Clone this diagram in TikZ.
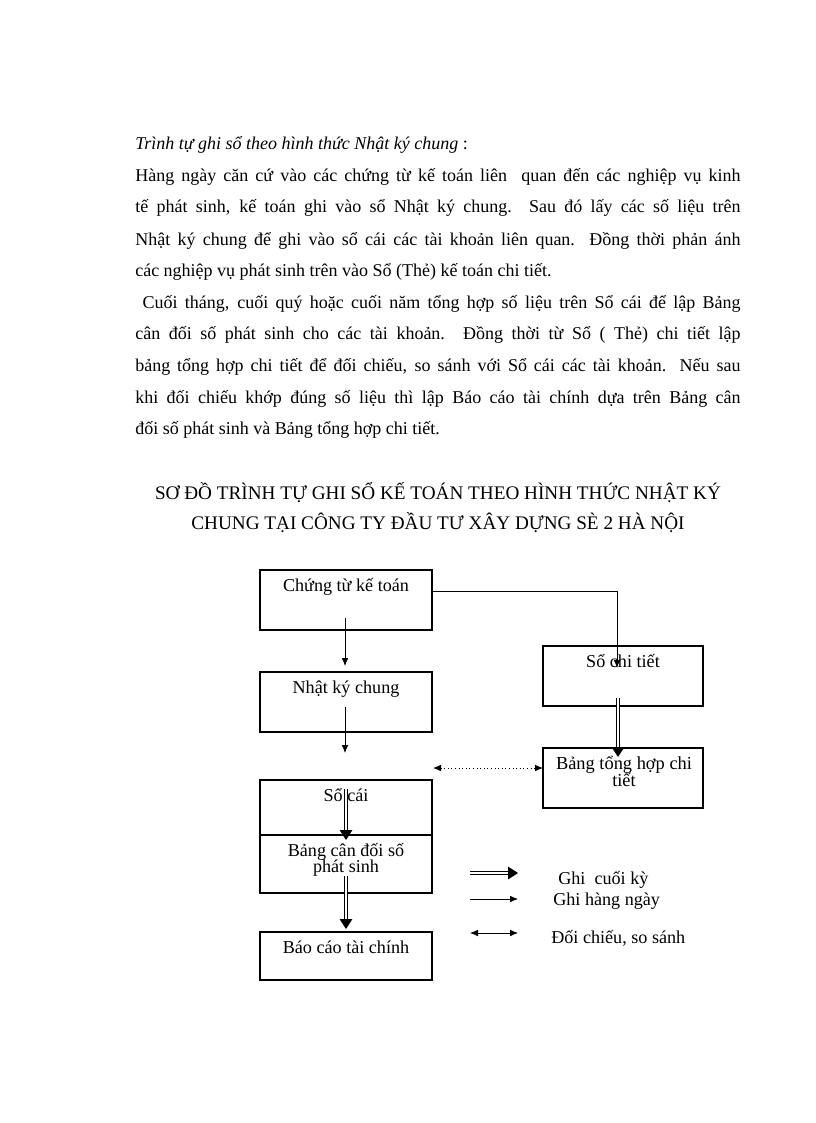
\documentclass[tikz,border=0pt]{standalone}
\usepackage{fontspec}
\setmainfont{Liberation Serif}
\usetikzlibrary{arrows.meta}
\newcommand\tightls{\lineskiplimit=-20pt\relax}
\begin{document}
\begin{tikzpicture}[x=0.75pt,y=-0.75pt,
  body/.style={anchor=base west,inner sep=0pt,font=\fontsize{13.5}{16}\selectfont},
  ttl/.style={anchor=base,inner sep=0pt,font=\fontsize{14.4}{16}\selectfont},
  lbl/.style={anchor=base,inner sep=0pt,font=\fontsize{13.6}{14}\selectfont},
  boxst/.style={draw,line width=0.8pt},
  thin/.style={line width=0.6pt,-{Latex[length=6pt,width=5pt]}},
  dbl/.style={double,double distance=1.3pt,line width=0.75pt,-{Triangle[length=7.5pt,width=9.5pt]}},
  cmp/.style={dotted,line width=0.7pt,{Latex[length=6pt,width=5pt]}-{Latex[length=6pt,width=5pt]}},
  cmpl/.style={line width=0.6pt,{Latex[length=6pt,width=5pt]}-{Latex[length=6pt,width=5pt]}}]
\useasboundingbox (0,0) rectangle (816,1123);
\def\W{454pt}
\node[body] (p1) at (135,150) {\itshape Trình tự ghi sổ theo hình thức Nhật ký chung\upshape\ :};
\node[body] (p2) at (135,182) {\makebox[\W][s]{Hàng ngày căn cứ vào các chứng từ kế toán liên\ \ quan đến các nghiệp vụ kinh}};
\node[body] (p3) at (135,213) {\makebox[\W][s]{tế phát sinh, kế toán ghi vào sổ Nhật ký chung. Sau đó lấy các số liệu trên}};
\node[body] (p4) at (135,245) {\makebox[\W][s]{Nhật ký chung để ghi vào sổ cái các tài khoản liên quan. Đồng thời phản ánh}};
\node[body] (p5) at (135,276) {các nghiệp vụ phát sinh trên vào Sổ (Thẻ) kế toán chi tiết.};
\node[body] (p6) at (135,308) {\makebox[\W][s]{\ Cuối tháng, cuối quý hoặc cuối năm tổng hợp số liệu trên Sổ cái để lập Bảng}};
\node[body] (p7) at (135,339) {\makebox[\W][s]{cân đối số phát sinh cho các tài khoản. Đồng thời từ Sổ ( Thẻ) chi tiết lập}};
\node[body] (p8) at (135,371) {\makebox[\W][s]{bảng tổng hợp chi tiết để đối chiếu, so sánh với Sổ cái các tài khoản. Nếu sau}};
\node[body] (p9) at (135,403) {\makebox[\W][s]{khi đối chiếu khớp đúng số liệu thì lập Báo cáo tài chính dựa trên Bảng cân}};
\node[body] (p10) at (135,434) {đối số phát sinh và Bảng tổng hợp chi tiết.};
\node[ttl] (t1) at (438,499) {SƠ ĐỒ TRÌNH TỰ GHI SỔ KẾ TOÁN THEO HÌNH\ THỨC NHẬT KÝ};
\node[ttl] (t2) at (438,529) {CHUNG TẠI CÔNG TY ĐẦU TƯ XÂY DỰNG SÈ 2 HÀ NỘI};
% boxes
\draw[boxst] (260,570) rectangle (432,630);
\node[lbl] (ct) at (346,591) {Chứng từ kế toán};
\draw[boxst] (260,672) rectangle (432,732);
\node[lbl] (nk) at (346,693) {Nhật ký chung};
\draw[boxst] (543,646) rectangle (703,706);
\node[lbl] (sct) at (623,667) {Sổ chi tiết};
\draw[boxst] (543,748) rectangle (703,808);
\node[lbl,align=center,font=\fontsize{13.8}{12.2}\selectfont\tightls] (bth) at (624,786) {Bảng tổng hợp chi\\tiết};
\draw[boxst] (260,780) rectangle (432,893);
\draw[boxst] (260,835) -- (432,835);
\node[lbl] (sc) at (346,801) {Sổ cái};
\node[lbl,align=center,font=\fontsize{13.6}{12}\selectfont\tightls] (bcd) at (346,872) {Bảng cân đối số\\phát sinh};
\draw[boxst] (260,932) rectangle (432,980);
\node[lbl] (bc) at (346,953) {Báo cáo tài chính};
% connectors
\coordinate (a1) at (345,618); \coordinate (a2) at (345,666);
\draw[thin] (a1) -- (a2);
\coordinate (b1) at (345,707); \coordinate (b2) at (345,753);
\draw[thin] (b1) -- (b2);
\coordinate (c1) at (432,591); \coordinate (c2) at (617,591); \coordinate (c3) at (617,668);
\draw[thin] (c1) -- (c2) -- (c3);
\coordinate (d1) at (618,698); \coordinate (d2) at (618,757);
\draw[dbl] (d1) -- (d2);
\coordinate (e1) at (433,768); \coordinate (e2) at (543,768);
\draw[cmp] (e1) -- (e2);
\coordinate (f1) at (346,789); \coordinate (f2) at (346,840);
\draw[dbl] (f1) -- (f2);
\coordinate (g1) at (346,876); \coordinate (g2) at (346,929);
\draw[dbl] (g1) -- (g2);
% legend
\coordinate (l1a) at (470,873); \coordinate (l1b) at (518,873);
\draw[dbl] (l1a) -- (l1b);
\node[lbl,anchor=base west] (lg1) at (558,884) {Ghi\ \ cuối kỳ};
\coordinate (l2a) at (470,899); \coordinate (l2b) at (518,899);
\draw[thin] (l2a) -- (l2b);
\node[lbl,anchor=base west] (lg2) at (553,905) {Ghi\ hàng ngày};
\coordinate (l3a) at (470,933); \coordinate (l3b) at (518,933);
\draw[cmpl] (l3a) -- (l3b);
\node[lbl,anchor=base west] (lg3) at (551,943) {Đối chiếu,\ so sánh};
\end{tikzpicture}
\end{document}
